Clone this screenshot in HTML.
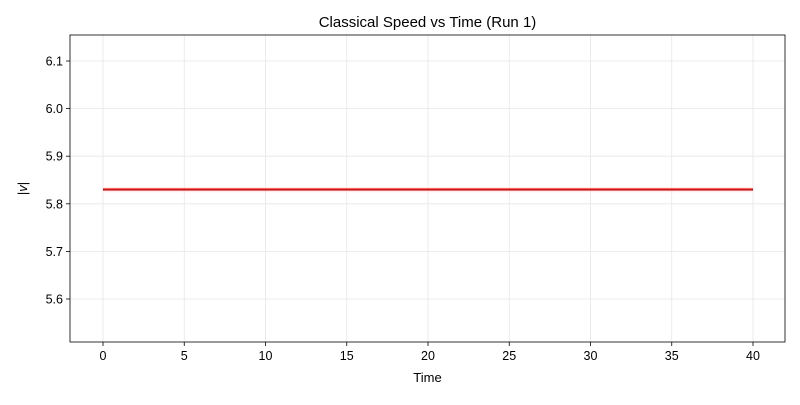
<!DOCTYPE html>
<html><head><meta charset="utf-8"><style>body{margin:0;background:#fff}svg{font-family:"Liberation Sans","DejaVu Sans",sans-serif}</style></head>
<body>
<svg id="chart" width="800" height="400"></svg>
<script>
const timePoints=[0,40];
const speedValues=[5.83,5.83];
const xTicks=[0,5,10,15,20,25,30,35,40];
const yTicks=[5.6,5.7,5.8,5.9,6.0,6.1];
const L=70,R=785,T=35,B=342;
const xMin=-2,xMax=42,yMin=5.51,yMax=6.155;
const x=v=>103+(v-0)*16.25;
const y=v=>299-(v-5.6)*476;
const svg=document.getElementById('chart');
const NS='http://www.w3.org/2000/svg';
function mk(tag,attrs,parent){const e=document.createElementNS(NS,tag);for(const k in attrs)e.setAttribute(k,attrs[k]);(parent||svg).appendChild(e);return e;}
xTicks.forEach(t=>{
 const g=mk('line',{x1:x(t),x2:x(t),y1:T,y2:B,stroke:'#e6e6e6','stroke-width':0.8});
 
 
 mk('line',{x1:x(t),x2:x(t),y1:B,y2:B+4,stroke:'#000','stroke-width':0.8});
 const tx=mk('text',{x:x(t),y:B+18,'text-anchor':'middle','font-size':12.5});
 tx.textContent=t;
 
 
});
yTicks.forEach(t=>{
 const g=mk('line',{x1:L,x2:R,y1:y(t),y2:y(t),stroke:'#e6e6e6','stroke-width':0.8});
 
 
 mk('line',{x1:L-4,x2:L,y1:y(t),y2:y(t),stroke:'#000','stroke-width':0.8});
 const tx=mk('text',{x:L-7,y:y(t)+4.5,'text-anchor':'end','font-size':12.5});
 tx.textContent=t.toFixed(1);
 
 
});
const frame=mk('rect',{x:L,y:T,width:R-L,height:B-T,fill:'none',stroke:'#000','stroke-width':0.8});


const line=mk('polyline',{points:timePoints.map((t,i)=>x(t)+','+y(speedValues[i])).join(' '),fill:'none',stroke:'#ff0000','stroke-width':2.2});


const title=mk('text',{x:(L+R)/2,y:27,'text-anchor':'middle','font-size':15});
title.textContent='Classical Speed vs Time (Run 1)';


const xl=mk('text',{x:(L+R)/2,y:382,'text-anchor':'middle','font-size':13});
xl.textContent='Time';


const yl=mk('text',{x:0,y:0,'text-anchor':'middle','font-size':13,transform:'translate(27,'+((T+B)/2)+') rotate(-90)'});
yl.innerHTML='|<tspan font-style="italic">v</tspan>|';


</script>
</body></html>
